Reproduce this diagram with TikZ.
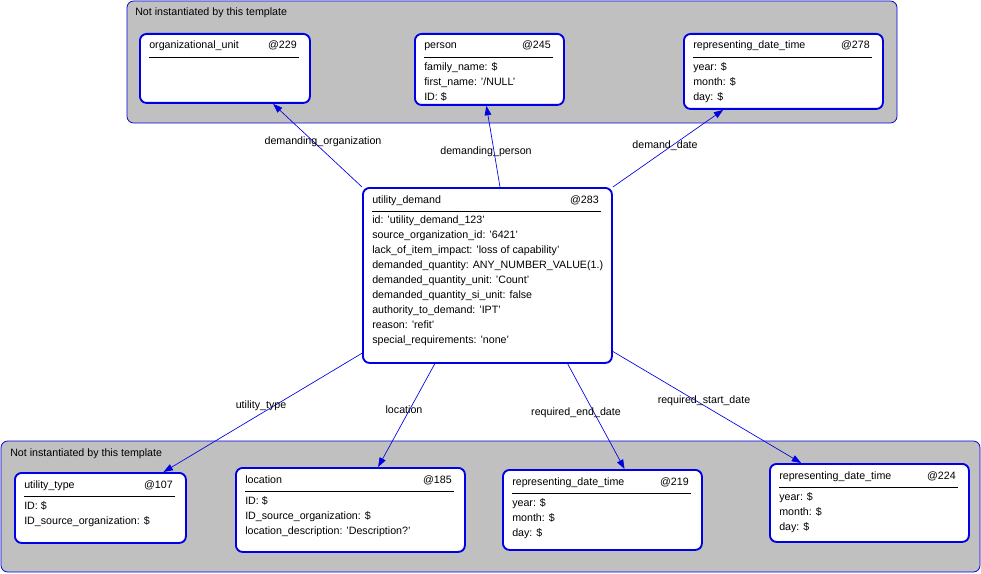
\documentclass[tikz,border=0pt]{standalone}
\usepackage{fontspec}
\setmainfont{Liberation Sans}
\usetikzlibrary{calc,arrows.meta}
\definecolor{bl}{RGB}{0,0,230}
\definecolor{pan}{RGB}{192,192,192}
\tikzset{
  panel/.style={draw=bl,fill=pan,rounded corners=5pt,line width=0.6pt},
  box/.style={draw=bl,fill=white,rounded corners=5pt,line width=1.4pt,anchor=north west,inner sep=0pt},
  txt/.style={font=\fontsize{8}{11.25}\selectfont,inner sep=0pt,align=left},
  conn/.style={draw=bl,line width=0.5pt,-{Triangle[length=7pt,width=5pt]}},
  lbl/.style={font=\fontsize{8}{10}\selectfont,inner sep=0pt}
}
\newcommand{\ebox}[8]{%
  \node[box,minimum width=#4*0.75pt,minimum height=#5*0.75pt] (#1) at (#2,#3) {};
  \node[txt,anchor=base west] (#1t) at (#2+10,#3+16) {#6};
  \node[txt,anchor=base east] (#1i) at (#2+#4-12,#3+16) {#7};
  \draw[line width=0.5pt] (#2+10,#3+24) -- (#2+#4-10,#3+24);
  \node[txt,anchor=north west] (#1b) at (#2+10,#3+29) {#8};
}
\begin{document}
\begin{tikzpicture}[x=0.75pt,y=-0.75pt]
\useasboundingbox (0,0) rectangle (981,574);
\draw[panel] (127,1) rectangle (897,123);
\node[lbl,anchor=base west] (p1) at (135,16) {Not instantiated by this template};
\draw[panel] (1,441) rectangle (980,572);
\node[lbl,anchor=base west] (p2) at (10,456) {Not instantiated by this template};

\ebox{org}{139}{33}{170}{69}{organizational\_unit}{@229}{}
\ebox{per}{414}{33}{149}{71}{person}{@245}{family\_name: \$\\first\_name: '/NULL'\\ID: \$}
\ebox{rA}{683}{33}{199}{75}{representing\_date\_time}{@278}{year: \$\\month: \$\\day: \$}
\ebox{ud}{362}{187}{249}{175}{utility\_demand}{@283}{id: 'utility\_demand\_123'\\source\_organization\_id: '6421'\\lack\_of\_item\_impact: 'loss of capability'\\demanded\_quantity: ANY\_NUMBER\_VALUE(1.)\\demanded\_quantity\_unit: 'Count'\\demanded\_quantity\_si\_unit: false\\authority\_to\_demand: 'IPT'\\reason: 'refit'\\special\_requirements: 'none'}
\ebox{ut}{14}{472}{171}{70}{utility\_type}{@107}{ID: \$\\ID\_source\_organization: \$}
\ebox{loc}{235}{467}{229}{84}{location}{@185}{ID: \$\\ID\_source\_organization: \$\\location\_description: 'Description?'}
\ebox{rB}{502}{469}{199}{80}{representing\_date\_time}{@219}{year: \$\\month: \$\\day: \$}
\ebox{rC}{769}{463}{199}{78}{representing\_date\_time}{@224}{year: \$\\month: \$\\day: \$}

\draw[conn] (ud.north west) -- ($(org.south west)!0.78!(org.south east)$);
\node[lbl] (l1) at (323,142) {demanding\_organization};
\draw[conn] ($(ud.north west)!0.55!(ud.north east)$) -- ($(per.south west)!0.48!(per.south east)$);
\node[lbl] (l2) at (486,152) {demanding\_person};
\draw[conn] (ud.north east) -- ($(rA.south west)!0.2!(rA.south east)$);
\node[lbl] (l3) at (665,146) {demand\_date};
\draw[conn] ($(ud.north west)!0.94!(ud.south west)$) -- ($(ut.north west)!0.865!(ut.north east)$);
\node[lbl] (l4) at (261,406) {utility\_type};
\draw[conn] ($(ud.south west)!0.29!(ud.south east)$) -- ($(loc.north west)!0.62!(loc.north east)$);
\node[lbl] (l5) at (404,410) {location};
\draw[conn] ($(ud.south west)!0.82!(ud.south east)$) -- ($(rB.north west)!0.61!(rB.north east)$);
\node[lbl] (l6) at (576,413) {required\_end\_date};
\draw[conn] ($(ud.north east)!0.93!(ud.south east)$) -- ($(rC.north west)!0.16!(rC.north east)$);
\node[lbl] (l7) at (704,401) {required\_start\_date};
\end{tikzpicture}
\end{document}
